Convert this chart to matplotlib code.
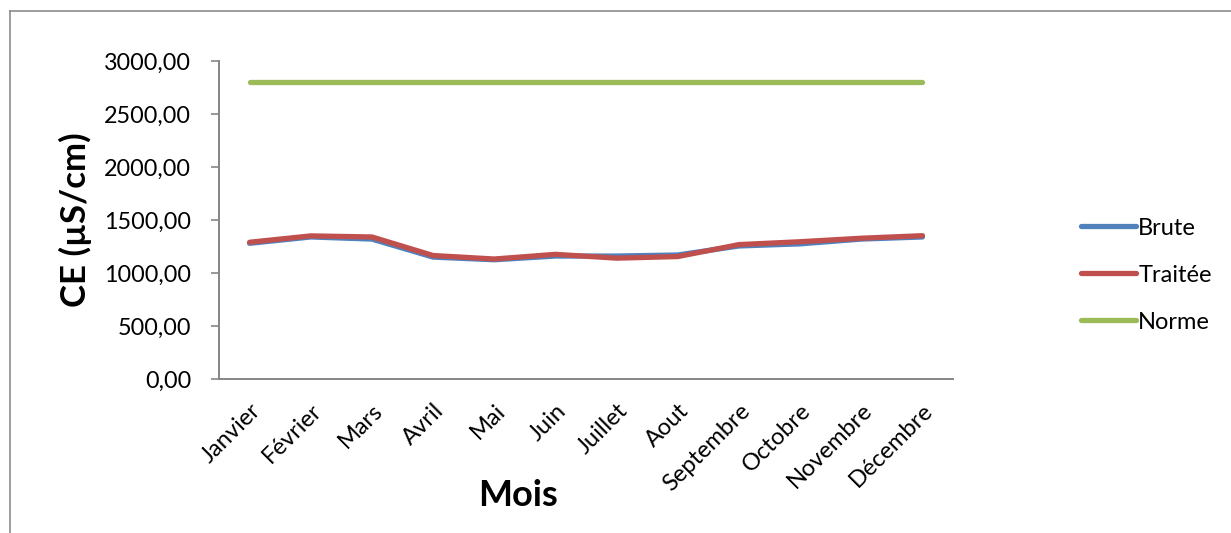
import matplotlib
matplotlib.use("Agg")
import matplotlib.pyplot as plt
from matplotlib.lines import Line2D

plt.rcParams['font.family'] = ['Lato', 'DejaVu Sans']

mois = ["Janvier", "Février", "Mars", "Avril", "Mai", "Juin", "Juillet",
        "Aout", "Septembre", "Octobre", "Novembre", "Décembre"]
brute = [1280, 1340, 1320, 1150, 1125, 1160, 1160, 1170, 1255, 1275, 1320, 1340]
traitee = [1290, 1350, 1340, 1165, 1132, 1176, 1140, 1155, 1268, 1295, 1328, 1352]
norme = [2800] * 12

yticks = [0, 500, 1000, 1500, 2000, 2500, 3000]
ytick_labels = ["0,00", "500,00", "1000,00", "1500,00", "2000,00", "2500,00", "3000,00"]

fig = plt.figure(figsize=(12.31, 5.33), dpi=100)
ax = fig.add_axes([0.1779, 0.2889, 0.5963, 0.5967])

x = list(range(len(mois)))
lw = 3.8
ax.plot(x, brute, color="#4F81BD", lw=lw, solid_capstyle="round", label="Brute")
ax.plot(x, traitee, color="#C0504D", lw=lw, solid_capstyle="round", label="Traitée")
ax.plot(x, norme, color="#9BBB59", lw=lw, solid_capstyle="round", label="Norme")

ax.set_xlim(-0.5, len(mois) - 0.5)
ax.set_ylim(0, 3000)
ax.set_yticks(yticks)
ax.set_yticklabels(ytick_labels, fontsize=16.8)
ax.set_xticks(x)
ax.set_xticklabels(mois, fontsize=17, rotation=45, ha="right", rotation_mode="anchor")

gray = "#868686"
for s in ("top", "right"):
    ax.spines[s].set_visible(False)
for s in ("left", "bottom"):
    ax.spines[s].set_color(gray)
    ax.spines[s].set_linewidth(1.4)
ax.tick_params(axis="y", direction="out", length=6, width=1.2, color=gray, pad=14)
ax.tick_params(axis="x", length=0, pad=15)

ax.set_ylabel("CE (µS/cm)", fontsize=25, fontweight="bold")
ax.yaxis.label.set_va("center")
ax.yaxis.set_label_coords(-0.196, 0.5)
ax.set_xlabel("Mois", fontsize=26, fontweight="bold")
ax.xaxis.label.set_va("top")
ax.xaxis.set_label_coords(0.407, -0.315)

fig.legend(loc="center left", bbox_to_anchor=(0.878, 0.484), frameon=False,
           fontsize=17, handlelength=2.33, handletextpad=0.1, labelspacing=1.1,
           borderpad=0, borderaxespad=0)

# Outer frame (top and left edges)
fig.add_artist(Line2D([10 / 1231, 1.0], [1 - 11 / 533, 1 - 11 / 533],
                      transform=fig.transFigure, color="#8c8c8c", lw=1.2))
fig.add_artist(Line2D([10 / 1231, 10 / 1231], [0.0, 1 - 11 / 533],
                      transform=fig.transFigure, color="#8c8c8c", lw=1.2))

fig.savefig("out.png", dpi=100, facecolor="white")
